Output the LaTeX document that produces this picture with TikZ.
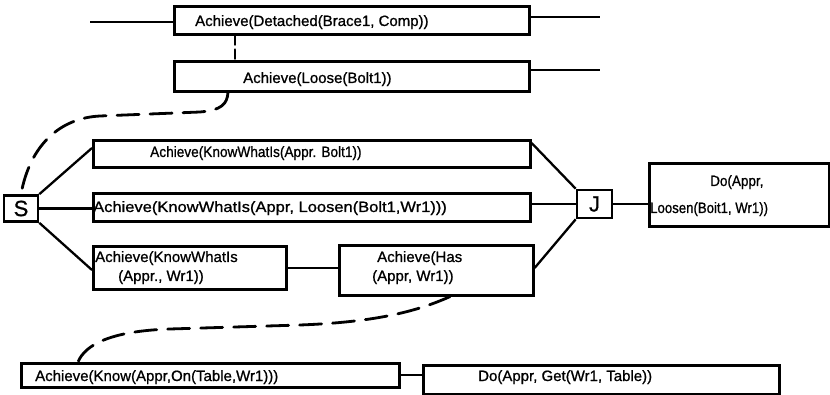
\documentclass[tikz,border=0pt]{standalone}
\usepackage{fontspec}
\setmainfont{Liberation Sans}
\newfontfamily\scanfont{Liberation Sans}[FakeBold=0.9]
\begin{document}
\begin{tikzpicture}[x=1pt,y=-1pt,
  box/.style={draw, line width=2.6pt, inner sep=0pt, anchor=north west},
  txt/.style={anchor=base west, inner sep=0pt, font=\scanfont\fontsize{15}{18}\selectfont},
  bigbox/.style={draw, line width=2.6pt, inner sep=0pt, minimum width=34pt, minimum height=26pt, font=\scanfont\fontsize{22}{24}\selectfont},
  conn/.style={line width=2.3pt},
  dashlink/.style={line width=2.8pt, dash pattern=on 22pt off 11pt, line cap=round}]
\useasboundingbox[fill=white] (0,0) rectangle (830,395);

% boxes
\node[box, minimum width=355pt, minimum height=28pt] (b1) at (173,5) {};
\node[box, minimum width=355pt, minimum height=30pt] (b2) at (173,60) {};
\node[box, minimum width=437pt, minimum height=27pt] (b3) at (92,139) {};
\node[box, minimum width=437pt, minimum height=28pt] (b4) at (92,192) {};
\node[box, minimum width=193pt, minimum height=43pt] (b5) at (92,245) {};
\node[box, minimum width=194pt, minimum height=50pt] (b6) at (338,244) {};
\node[box, minimum width=180pt, minimum height=63pt] (b7) at (648,162) {};
\node[box, minimum width=378pt, minimum height=24pt] (b8) at (20,362) {};
\node[box, minimum width=356pt, minimum height=29pt] (b9) at (422,364) {};
\node[bigbox] (S) at (21,208.5) {S};
\node[bigbox, minimum width=35pt, minimum height=28pt] (J) at (594.5,204) {J};

% texts
\node[txt] (t1) at (195,26) {Achieve(Detached(Brace1, Comp))};
\node[txt] (t2) at (243,83) {Achieve(Loose(Bolt1))};
\node[txt] (t3) at (150,157) {\scalebox{0.91}[1]{Achieve(KnowWhatIs(Appr. Bolt1))}};
\node[txt] (t4) at (93,212) {\scalebox{1.1}[1]{Achieve(KnowWhatIs(Appr, Loosen(Bolt1,Wr1)))}};
\node[txt] (t5a) at (95,262) {Achieve(KnowWhatIs};
\node[txt] (t5b) at (118,281) {(Appr., Wr1))};
\node[txt] (t6a) at (377,262) {Achieve(Has};
\node[txt] (t6b) at (372,281) {(Appr, Wr1))};
\node[txt] (t7a) at (710,186) {\scalebox{0.9}[1]{Do(Appr,}};
\node[txt] (t7b) at (650,213) {\scalebox{0.88}[1]{Loosen(Boit1, Wr1))}};
\node[txt] (t8) at (35,381) {Achieve(Know(Appr,On(Table,Wr1)))};
\node[txt] (t9) at (478,381) {Do(Appr, Get(Wr1, Table))};

% free ends
\coordinate (l1) at (90,22);
\coordinate (r1) at (600,17);
\coordinate (r2) at (600,70);

% solid connectors
\draw[conn] (l1) -- (l1 -| b1.west);
\draw[conn] (r1 -| b1.east) -- (r1);
\draw[conn] (r2 -| b2.east) -- (r2);
\draw[conn] (S.north east) -- (b3.west |- 0,148);
\draw[conn] (S.east) -- (S.east -| b4.west);
\draw[conn] (S.south east) -- (b5.west |- 0,270);
\draw[conn] (b3.east |- 0,143) -- (J.north west);
\draw[conn] (J.west -| b4.east) -- (J.west);
\draw[conn] (b6.east |- 0,268) -- (J.south west);
\draw[conn] (J.east) -- (J.east -| b7.west);
\draw[conn] (b5.east |- 0,268) -- (b6.west |- 0,268);
\draw[conn] (b8.east |- 0,375) -- (b9.west |- 0,375);

% dashed connectors
\draw[dashlink, dash pattern=on 9pt off 5pt] ([xshift=62pt]b1.south west) -- ([xshift=62pt]b2.north west);
\draw[dashlink] ([xshift=55pt]b2.south west) .. controls (227,104) and (222,110) .. (200,112)
  -- (100,116) .. controls (60,118) and (30,145) .. (S.north);
\draw[dashlink] ([xshift=112pt]b6.south west) .. controls (420,310) and (380,322) .. (300,325)
  -- (170,329) .. controls (110,331) and (85,345) .. ([xshift=58pt]b8.north west);
\end{tikzpicture}
\end{document}
